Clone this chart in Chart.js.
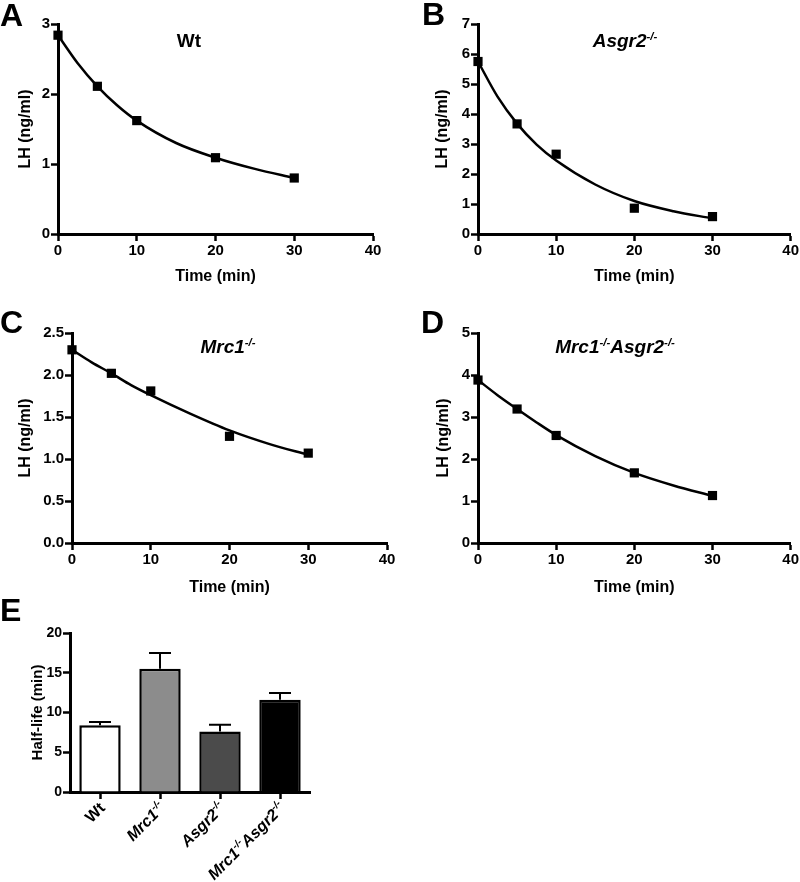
<!DOCTYPE html>
<html>
<head>
<meta charset="utf-8">
<script src="https://cdn.jsdelivr.net/npm/chart.js@4.4.1/dist/chart.umd.min.js"></script>
<style>
body { margin: 0; background: #fff; width: 800px; height: 882px; position: relative; overflow: hidden;
       font-family: "Liberation Sans", Arial, sans-serif; }
canvas { position: absolute; }
.lbl { position: absolute; font-weight: bold; line-height: 1; color: #000; white-space: nowrap; }
.letter { font-size: 32px; }
.ttl { font-size: 19px; transform: translateX(-50%); }
.ttl i { font-style: italic; }
sup { font-size: 60%; line-height: 0; vertical-align: 0.6em; }
</style>
</head>
<body>
<canvas id="chartA" width="400" height="290" style="left:0;top:0"></canvas>
<canvas id="chartB" width="400" height="290" style="left:400px;top:0"></canvas>
<canvas id="chartC" width="400" height="310" style="left:0;top:290px"></canvas>
<canvas id="chartD" width="400" height="310" style="left:400px;top:290px"></canvas>
<canvas id="chartE" width="400" height="282" style="left:0;top:600px"></canvas>

<div class="lbl letter" style="left:0;top:-1px">A</div>
<div class="lbl letter" style="left:422px;top:-2px">B</div>
<div class="lbl letter" style="left:0;top:306px">C</div>
<div class="lbl letter" style="left:421px;top:306px">D</div>
<div class="lbl letter" style="left:0;top:594px">E</div>

<div class="lbl ttl" style="left:189px;top:31px">Wt</div>
<div class="lbl ttl" style="left:625px;top:31px"><i>Asgr2<sup>-/-</sup></i></div>
<div class="lbl ttl" style="left:228px;top:337px"><i>Mrc1<sup>-/-</sup></i></div>
<div class="lbl ttl" style="left:615px;top:337px"><i>Mrc1<sup>-/-</sup>Asgr2<sup>-/-</sup></i></div>

<script>
const FONT = '"Liberation Sans", Arial, sans-serif';
Chart.defaults.font.family = FONT;
Chart.defaults.font.weight = 'bold';
Chart.defaults.color = '#000';

// sampling times (min) and LH measurements (ng/ml)
const times = [0, 5, 10, 20, 30];
const wtLH = [2.84, 2.11, 1.62, 1.09, 0.80];
const asgr2LH = [5.75, 3.67, 2.66, 0.86, 0.58];
const mrc1LH = [2.30, 2.02, 1.81, 1.27, 1.07];
const dkoLH = [3.88, 3.19, 2.56, 1.67, 1.13];

// fitted decay curves
const fitTimes = [0, 2.5, 5, 7.5, 10, 15, 20, 25, 30];
const wtFit = [2.84, 2.44, 2.11, 1.84, 1.62, 1.30, 1.09, 0.93, 0.80];
const asgr2Fit = [5.75, 4.58, 3.68, 2.98, 2.45, 1.65, 1.10, 0.76, 0.52];
const mrc1Fit = [2.30, 2.15, 2.02, 1.88, 1.76, 1.54, 1.34, 1.18, 1.05];
const dkoFit = [3.88, 3.52, 3.19, 2.87, 2.57, 2.07, 1.67, 1.37, 1.12];

// panel E: half-life
const genotypes = ['Wt', 'Mrc1-/-', 'Asgr2-/-', 'Mrc1-/-Asgr2-/-'];
const halfLife = [8.4, 15.5, 7.6, 11.6];
const halfLifeSem = [0.4, 2.0, 0.85, 0.85];
const barColors = ['#ffffff', '#8c8c8c', '#4b4b4b', '#000000'];

function decayChart(id, lh, fit, yMax, yStep, lay) {
    return new Chart(document.getElementById(id), {
        type: 'scatter',
        data: {
            datasets: [{
                data: fitTimes.map((t, i) => ({ x: t, y: fit[i] })),
                showLine: true,
                borderColor: '#000',
                borderWidth: 2.5,
                pointRadius: 0,
                cubicInterpolationMode: 'monotone',
                clip: false,
                order: 2
            }, {
                data: times.map((t, i) => ({ x: t, y: lh[i] })),
                pointStyle: 'rect',
                pointRadius: 6.5,
                backgroundColor: '#000',
                borderWidth: 0,
                clip: false,
                order: 1
            }]
        },
        options: {
            responsive: false,
            animation: false,
            events: [],
            layout: { padding: { top: lay.top, right: lay.right, left: 0, bottom: 0 } },
            plugins: { legend: { display: false }, tooltip: { enabled: false } },
            scales: {
                x: {
                    type: 'linear', min: 0, max: 40,
                    ticks: { stepSize: 10, padding: 1, font: { size: 15 } },
                    grid: { drawOnChartArea: false, tickLength: 7, tickWidth: 2.5, tickColor: '#000' },
                    border: { color: '#000', width: 3 },
                    title: { display: true, text: 'Time (min)', font: { size: 16 }, padding: { top: 0, bottom: lay.xPad } },
                    afterFit: s => { s.height = lay.xH; }
                },
                y: {
                    min: 0, max: yMax,
                    ticks: { stepSize: yStep, padding: 1, font: { size: 15 },
                             callback: v => yStep < 1 ? v.toFixed(1) : v },
                    grid: { drawOnChartArea: false, tickLength: 7, tickWidth: 2.5, tickColor: '#000' },
                    border: { color: '#000', width: 3 },
                    title: { display: true, text: 'LH (ng/ml)', font: { size: 16 }, padding: { top: lay.yPad, bottom: 0 } },
                    afterFit: s => { s.width = lay.yW; }
                }
            }
        }
    });
}

decayChart('chartA', wtLH, wtFit, 3, 1, { top: 24, right: 27, xH: 56, yW: 58, xPad: 3.5, yPad: 15.5 });
decayChart('chartB', asgr2LH, asgr2Fit, 7, 1, { top: 24, right: 8, xH: 56, yW: 78, xPad: 3.5, yPad: 32.5 });
decayChart('chartC', mrc1LH, mrc1Fit, 2.5, 0.5, { top: 43, right: 13, xH: 57, yW: 72, xPad: 2.5, yPad: 15.5 });
decayChart('chartD', dkoLH, dkoFit, 5, 1, { top: 43, right: 8, xH: 57, yW: 78, xPad: 2.5, yPad: 33.5 });

// text with "-/-" raised as superscript, right end at the origin
function drawRich(ctx, str, size, italic) {
    const parts = str.split(/(-\/-)/).filter(p => p.length);
    const st = italic ? 'italic ' : '';
    const big = `${st}bold ${size}px ${FONT}`;
    const small = `${st}bold ${Math.round(size * 0.6)}px ${FONT}`;
    let total = 0;
    parts.forEach(p => { ctx.font = p === '-/-' ? small : big; total += ctx.measureText(p).width; });
    let cx = -total;
    ctx.textAlign = 'left';
    ctx.textBaseline = 'alphabetic';
    parts.forEach(p => {
        const sup = p === '-/-';
        ctx.font = sup ? small : big;
        ctx.fillText(p, cx, sup ? -size * 0.42 : 0);
        cx += ctx.measureText(p).width;
    });
}

const errorBars = {
    id: 'errorBars',
    afterDatasetsDraw(chart) {
        const { ctx, scales: { x, y } } = chart;
        ctx.save();
        ctx.strokeStyle = '#000';
        ctx.lineWidth = 2;
        halfLife.forEach((v, i) => {
            const px = x.getPixelForValue(i);
            const base = y.getPixelForValue(v);
            const top = y.getPixelForValue(v + halfLifeSem[i]);
            ctx.beginPath();
            ctx.moveTo(px, base);
            ctx.lineTo(px, top);
            ctx.moveTo(px - 11, top);
            ctx.lineTo(px + 11, top);
            ctx.stroke();
        });
        ctx.restore();
    }
};

const genotypeLabels = {
    id: 'genotypeLabels',
    afterDraw(chart) {
        const { ctx, scales: { x } } = chart;
        genotypes.forEach((g, i) => {
            ctx.save();
            ctx.fillStyle = '#000';
            ctx.translate(x.getPixelForTick(i) + 6, x.top + 17);
            ctx.rotate(-Math.PI / 4);
            drawRich(ctx, g, 16, g !== 'Wt');
            ctx.restore();
        });
    }
};

new Chart(document.getElementById('chartE'), {
    type: 'bar',
    data: {
        labels: genotypes,
        datasets: [{
            data: halfLife,
            backgroundColor: barColors,
            borderColor: '#000',
            borderWidth: 2.5,
            barPercentage: 0.69,
            categoryPercentage: 1
        }]
    },
    options: {
        responsive: false,
        animation: false,
        events: [],
        layout: { padding: { top: 33, right: 90, left: 0, bottom: 0 } },
        plugins: { legend: { display: false }, tooltip: { enabled: false } },
        scales: {
            x: {
                ticks: { display: false },
                grid: { offset: false, drawOnChartArea: false, tickLength: 7, tickWidth: 2.5, tickColor: '#000' },
                border: { color: '#000', width: 3 },
                afterFit: s => { s.height = 90; }
            },
            y: {
                min: 0, max: 20,
                ticks: { stepSize: 5, padding: 1, font: { size: 14 } },
                grid: { drawOnChartArea: false, tickLength: 7, tickWidth: 2.5, tickColor: '#000' },
                border: { color: '#000', width: 3 },
                title: { display: true, text: 'Half-life (min)', font: { size: 15 }, padding: { top: 29, bottom: 0 } },
                afterFit: s => { s.width = 70; }
            }
        }
    },
    plugins: [errorBars, genotypeLabels]
});
</script>
</body>
</html>
